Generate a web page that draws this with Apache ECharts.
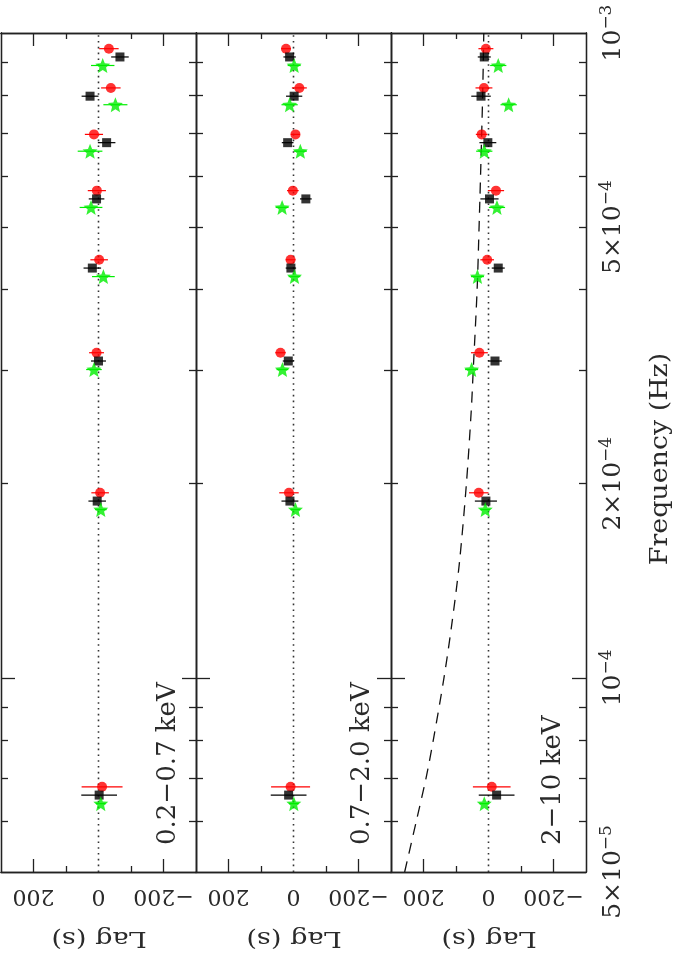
<!DOCTYPE html>
<html>
<head>
<meta charset="utf-8">
<script src="https://cdn.jsdelivr.net/npm/echarts@6/dist/echarts.min.js"></script>
<style>html,body{margin:0;padding:0;background:#fff;}#c{width:677px;height:954px;}</style>
</head>
<body>
<div id="c"></div>
<script>
// ---------- data ----------
const freq = [6.58e-5, 1.88e-4, 3.10e-4, 4.32e-4, 5.53e-4, 6.76e-4, 7.98e-4, 9.18e-4];
const redFreqShift = 1.03;
const greenFreqShift = 0.97;

const panelNames = ['0.2\u22120.7 keV', '0.7\u22122.0 keV', '2\u221210 keV'];
const lagAxisName = 'Lag (s)';
const freqAxisName = 'Frequency (Hz)';

const p1RedLag   = [-11, -5, 6, -2, 5, 14, -38, -32];
const p1RedErr   = [63, 27, 23, 27, 28, 28, 30, 30];
const p1BlackLag = [-2, 4, 0, 19, 6, -25, 26, -66];
const p1BlackErr = [55, 27, 23, 27, 24, 27, 26, 27];
const p1GreenLag = [-7, -7, 14, -15, 23, 26, -52, -13];
const p1GreenErr = [15, 18, 24, 35, 35, 38, 37, 36];

const p2RedLag   = [9, 14, 40, 9, 2, -6, -18, 23];
const p2RedErr   = [60, 30, 16, 15, 18, 14, 23, 15];
const p2BlackLag = [15, 11, 16, 8, -38, 18, -2, 12];
const p2BlackErr = [55, 26, 17, 16, 18, 18, 25, 19];
const p2GreenLag = [-1, -6, 34, -3, 35, -21, 12, -2];
const p2GreenErr = [15, 15, 18, 18, 20, 20, 25, 20];

const p3RedLag   = [-10, 30, 28, 4, -23, 21, 14, 8];
const p3RedErr   = [58, 30, 26, 21, 25, 18, 26, 23];
const p3BlackLag = [-25, 8, -20, -30, -3, 2, 23, 13];
const p3BlackErr = [55, 34, 21, 20, 28, 26, 30, 20];
const p3GreenLag = [13, 10, 52, 34, -26, 13, -62, -30];
const p3GreenErr = [15, 15, 20, 20, 25, 25, 25, 25];

const modelFreq = [5e-5, 6e-5, 7e-5, 8e-5, 1e-4, 1.2e-4, 1.5e-4, 2e-4, 2.6e-4, 3e-4, 4e-4, 5e-4, 6e-4, 8e-4, 1e-3];
const modelLag  = [258, 222, 192, 170, 137, 114, 90, 68, 53, 47, 35, 29, 24.5, 18, 14.5];

const lagTickVals = [-200, 0, 200];
const lagTickText = ['\u2212200', '0', '200'];
const lagMinorTicks = [-100, 100];
const lagMajorTicks = [-200, 200];

const freqTickVals = [5e-5, 1e-4, 2e-4, 5e-4, 1e-3];
const freqTickText = ['{a|5\u00d710}{s|\u22125}', '{a|10}{s|\u22124}', '{a|2\u00d710}{s|\u22124}', '{a|5\u00d710}{s|\u22124}', '{a|10}{s|\u22123}'];
const freqMinorTicks = [6e-5, 7e-5, 8e-5, 9e-5, 2e-4, 3e-4, 4e-4, 5e-4, 6e-4, 7e-4, 8e-4, 9e-4];
const freqMajorTicks = [1e-4];

const panels = [
  {red: p1RedLag, redErr: p1RedErr, black: p1BlackLag, blackErr: p1BlackErr, green: p1GreenLag, greenErr: p1GreenErr},
  {red: p2RedLag, redErr: p2RedErr, black: p2BlackLag, blackErr: p2BlackErr, green: p2GreenLag, greenErr: p2GreenErr},
  {red: p3RedLag, redErr: p3RedErr, black: p3BlackLag, blackErr: p3BlackErr, green: p3GreenLag, greenErr: p3GreenErr}
];

// ---------- chart ----------
const FONT = 'DejaVu Serif';
const TXT = '#2a2a2a';
const LINE = {color: '#222', width: 1.3};
const grids = [], xAxes = [], yAxes = [], series = [], graphics = [];
const starPath = 'path://M0,-10L2.6,-3.6L9.5,-3.1L4.2,1.4L5.9,8.1L0,4.4L-5.9,8.1L-4.2,1.4L-9.5,-3.1L-2.6,-3.6Z';

function errRender(color) {
  return function (params, api) {
    const y = api.value(1), x = api.value(0), e = api.value(2);
    const a = api.coord([x - e, y]);
    const b = api.coord([x + e, y]);
    return {type: 'line', shape: {x1: a[0], y1: a[1], x2: b[0], y2: b[1]},
      style: {stroke: color, lineWidth: 1.2}};
  };
}

function freqLabel(v) {
  for (let i = 0; i < freqTickVals.length; i++) {
    if (Math.abs(Math.log10(v) - Math.log10(freqTickVals[i])) < 0.01) return freqTickText[i];
  }
  return '';
}
function lagLabel(v) {
  for (let i = 0; i < lagTickVals.length; i++) if (Math.abs(v - lagTickVals[i]) < 1e-6) return lagTickText[i];
  return '';
}

const gLeft = [1, 196, 391];
for (let g = 0; g < 3; g++) {
  grids.push({left: gLeft[g], top: 33, width: 195, height: 839});
  const xBase = {type: 'value', gridIndex: g, min: -300, max: 300, inverse: true,
    splitLine: {show: false}, axisLine: {show: true, onZero: false, lineStyle: LINE}};
  xAxes.push(Object.assign({}, xBase, {position: 'bottom',
    axisTick: {inside: true, length: 13, customValues: lagMajorTicks, lineStyle: LINE},
    axisLabel: {show: true, customValues: lagTickVals, rotate: 180, margin: 13, formatter: lagLabel,
      fontFamily: FONT, fontSize: 22, color: TXT}}));
  xAxes.push(Object.assign({}, xBase, {position: 'bottom',
    axisTick: {inside: true, length: 6, customValues: lagMinorTicks, lineStyle: LINE},
    axisLabel: {show: false}}));
  xAxes.push(Object.assign({}, xBase, {position: 'top',
    axisTick: {inside: true, length: 13, customValues: lagMajorTicks, lineStyle: LINE},
    axisLabel: {show: false}}));
  xAxes.push(Object.assign({}, xBase, {position: 'top',
    axisTick: {inside: true, length: 6, customValues: lagMinorTicks, lineStyle: LINE},
    axisLabel: {show: false}}));

  const yBase = {type: 'log', logBase: 10, gridIndex: g, min: 5e-5, max: 1e-3,
    splitLine: {show: false}, axisLine: {show: true, onZero: false, lineStyle: LINE}, axisLabel: {show: false}};
  yAxes.push(Object.assign({}, yBase, {position: 'left',
    axisTick: {inside: true, length: 7, customValues: freqMinorTicks, lineStyle: LINE}}));
  yAxes.push(Object.assign({}, yBase, {position: 'left',
    axisTick: {inside: true, length: 14, customValues: freqMajorTicks, lineStyle: LINE}}));
  yAxes.push(Object.assign({}, yBase, {position: 'right',
    axisTick: {inside: true, length: 7, customValues: freqMinorTicks, lineStyle: LINE}}));
  const yr = Object.assign({}, yBase, {position: 'right',
    axisTick: {inside: true, length: 14, customValues: freqMajorTicks, lineStyle: LINE}});
  if (g === 2) {
    yr.axisLabel = {show: true, customValues: freqTickVals, rotate: 90, margin: 12, formatter: freqLabel,
      color: TXT,
      rich: {a: {fontFamily: FONT, fontSize: 25, color: TXT},
             s: {fontFamily: FONT, fontSize: 17, color: TXT, verticalAlign: 'bottom', padding: [0, 0, 14, 0]}}};
  }
  yAxes.push(yr);

  const xi = 4 * g, yi = 4 * g;
  const P = panels[g];
  // zero dotted line
  series.push({type: 'line', xAxisIndex: xi, yAxisIndex: yi, data: [[0, 5e-5], [0, 1e-3]],
    symbol: 'none', lineStyle: {color: '#333', width: 1.6, type: [1.6, 4.2]}, silent: true, z: 1});
  const sets = [
    {lag: P.red, err: P.redErr, shift: redFreqShift, color: '#ff0000', symbol: 'circle', size: 10},
    {lag: P.black, err: P.blackErr, shift: 1, color: '#000000', symbol: 'rect', size: 9},
    {lag: P.green, err: P.greenErr, shift: greenFreqShift, color: '#00ee00', symbol: starPath, size: 15}
  ];
  sets.forEach(function (s) {
    const d = freq.map(function (f, i) { return [s.lag[i], f * s.shift, s.err[i]]; });
    series.push({type: 'custom', xAxisIndex: xi, yAxisIndex: yi, renderItem: errRender(s.color),
      data: d, encode: {x: 0, y: 1}, z: 2, silent: true});
    series.push({type: 'scatter', xAxisIndex: xi, yAxisIndex: yi, data: d.map(function (p) { return [p[0], p[1]]; }),
      symbol: s.symbol, symbolSize: s.size, itemStyle: {color: s.color}, z: 3, silent: true});
  });
  if (g === 2) {
    series.push({type: 'line', xAxisIndex: xi, yAxisIndex: yi,
      data: modelFreq.map(function (f, i) { return [modelLag[i], f]; }),
      symbol: 'none', smooth: 0.3, lineStyle: {color: '#111', width: 1.3, type: [11, 8]}, z: 2, silent: true});
  }
}

// panel labels (rotated, reading upward)
const labelX = [168, 362, 553];
for (let g = 0; g < 3; g++) {
  graphics.push({type: 'text', x: labelX[g], y: 845, rotation: Math.PI / 2,
    style: {text: panelNames[g], fontFamily: FONT, fontSize: 26, fill: TXT, align: 'left', verticalAlign: 'middle'}});
}
// lag axis titles (upside down)
const lagNameX = [99, 294, 489];
for (let g = 0; g < 3; g++) {
  graphics.push({type: 'text', x: lagNameX[g], y: 938, rotation: Math.PI, scaleX: 1.18,
    style: {text: lagAxisName, fontFamily: FONT, fontSize: 23, fill: TXT, align: 'center', verticalAlign: 'middle'}});
}
// frequency axis title
graphics.push({type: 'text', x: 661, y: 459, rotation: Math.PI / 2, scaleX: 1.12,
  style: {text: freqAxisName, fontFamily: FONT, fontSize: 24, fill: TXT, align: 'center', verticalAlign: 'middle'}});

const chart = echarts.init(document.getElementById('c'), null, {renderer: 'canvas'});
chart.setOption({
  animation: false,
  backgroundColor: '#ffffff',
  grid: grids, xAxis: xAxes, yAxis: yAxes, series: series, graphic: graphics
});
</script>
</body>
</html>
